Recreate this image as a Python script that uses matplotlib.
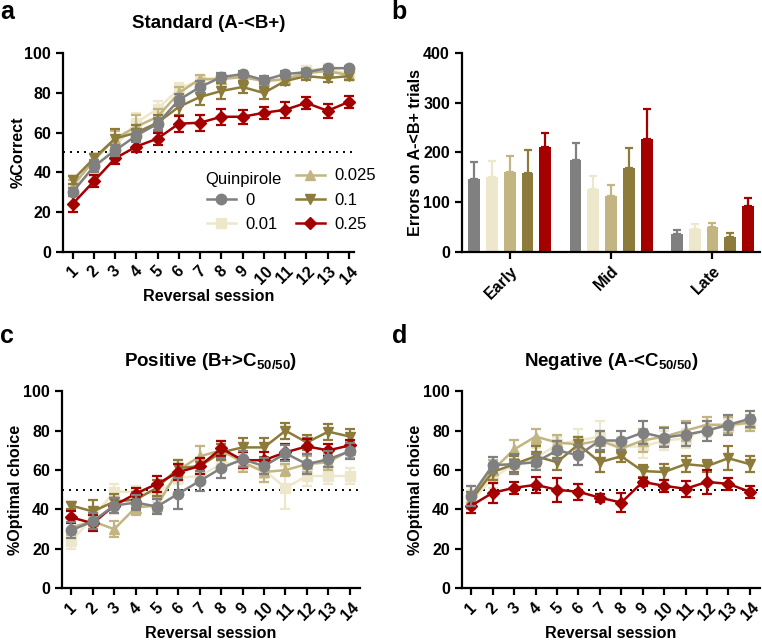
import numpy as np
import matplotlib
matplotlib.use("Agg")
import matplotlib.pyplot as plt
from matplotlib.lines import Line2D

plt.rcParams['font.family'] = ['Liberation Sans', 'DejaVu Sans']
plt.rcParams['mathtext.fontset'] = 'custom'
plt.rcParams['mathtext.rm'] = 'Liberation Sans'
plt.rcParams['mathtext.bf'] = 'Liberation Sans:bold'

# doses of quinpirole, one series each
doses = ['0', '0.01', '0.025', '0.1', '0.25']
colors = ['#808080', '#EDE7CC', '#C3B581', '#8C7B3A', '#A50000']
markers = ['o', 's', '^', 'v', 'D']
sessions = list(range(1, 15))

# a: standard (A-<B+), %correct
std_mean = [
    [30, 43, 51, 58.5, 64.5, 76.5, 83, 88, 89.5, 86.5, 89.5, 90.5, 92.5, 92.5],
    [32, 41, 53, 65, 72, 82, 86.5, 87.5, 88.5, 86, 86.5, 91.5, 92.4, 89.5],
    [33, 46, 57, 63, 68, 80, 87, 87, 88, 86, 87, 90, 91, 89],
    [36, 47, 57, 60, 65, 73, 78, 81, 83, 80, 86, 88.5, 87.5, 88.5],
    [24, 35.5, 47, 53, 57, 64.5, 65, 68, 68, 70, 71.5, 75, 71, 75.5],
]
std_sem = [
    [2, 3, 3, 3, 3, 3, 3, 2, 1.5, 2, 1.5, 1.5, 1, 1],
    [2, 3, 4, 5, 4, 3, 2, 2, 2, 2, 2, 2, 2, 2],
    [3, 3, 4, 6, 4, 3, 2, 2, 2, 2, 2, 2, 2, 2],
    [2, 2, 5, 4, 4, 4, 4, 4, 3, 3, 2, 2, 2, 2],
    [4, 3, 3, 3, 3, 4, 4, 4, 3.5, 3, 4, 3, 3.5, 3],
]

# b: errors on A-<B+ trials
phases = ['Early', 'Mid', 'Late']
err_mean = [
    [146.6, 184.9, 36.3],
    [151, 125.7, 45],
    [160.7, 112.3, 49.7],
    [158.7, 168, 29],
    [210.4, 228, 92.8],
]
err_sem = [
    [34, 34, 7],
    [31, 27, 10],
    [32, 23, 9],
    [47, 42, 8],
    [29, 60, 15],
]

# c: positive (B+>C50/50), %optimal choice
pos_mean = [
    [29.5, 34, 42, 43.5, 41.5, 48, 54.5, 61, 65.5, 62, 68.5, 63, 65.5, 69.5],
    [24, 36, 49, 49, 48, 56, 57, 63, 64, 60, 51, 57, 57, 57],
    [31, 34, 30, 41, 42, 60, 67, 70, 64, 59, 60, 63, 64, 70],
    [42, 39, 44, 45, 51, 61, 62, 69, 71.5, 71.5, 80, 74, 79.5, 77],
    [36, 33, 42, 48, 53, 59, 62, 71, 65, 65, 69, 72, 70, 72.5],
]
pos_sem = [
    [4, 4, 4, 4, 4, 8, 5, 5, 4, 4, 4, 5, 4, 4],
    [4, 5, 4, 3, 4, 3, 3, 3, 4, 4, 11, 5, 4, 4],
    [4, 4, 4, 4, 4, 5, 5, 5, 5, 5, 3, 4, 4, 4],
    [2, 6, 4, 4, 4, 4, 4, 4, 5, 5, 4, 4, 4, 4],
    [3, 4, 4, 3, 4, 4, 4, 4, 4, 4, 4, 4, 3, 3],
]

# d: negative (A-<C50/50), %optimal choice
neg_mean = [
    [47, 62.5, 63, 64, 70, 67.5, 75, 75, 79, 76.5, 78, 80, 83, 86],
    [44, 56, 63, 66, 73, 75, 77, 72, 72, 75, 76, 81, 82, 84],
    [46, 60, 70.5, 77, 74, 73, 75, 71, 75, 77, 80, 83, 83, 84],
    [45, 59, 63, 67, 64, 73, 64, 67, 59.5, 59, 63, 62, 66, 63],
    [42, 48.5, 51, 52.5, 50, 49, 46, 43.5, 54, 52, 50.5, 54, 53, 49],
]
neg_sem = [
    [5, 4, 5, 4, 5, 5, 5, 5, 6, 5, 6, 5, 5, 4],
    [6, 5, 5, 5, 4, 6, 8, 5, 6, 5, 5, 4, 4, 4],
    [6, 5, 5, 4, 4, 4, 5, 5, 6, 5, 5, 4, 4, 4],
    [4, 4, 4, 5, 4, 4, 5, 3, 3, 4, 4, 3, 6, 4],
    [4, 5, 3, 4, 6, 4, 2, 5, 2, 3, 4, 6, 3, 3],
]

# drawing order: cream, tan, olive, red, gray on top
zorders = [7, 3, 4, 5, 6]


def msize(m):
    return 6 if m == 'D' else 7.5


def style_axes(ax):
    for s in ['top', 'right']:
        ax.spines[s].set_visible(False)
    for s in ['left', 'bottom']:
        ax.spines[s].set_linewidth(1.6)
    ax.tick_params(width=1.6, length=5, labelsize=11.5)
    for lab in ax.get_xticklabels() + ax.get_yticklabels():
        lab.set_fontweight('bold')


def line_panel(ax, means, sems, title, ylabel):
    for i in range(len(doses)):
        ax.errorbar(sessions, means[i], yerr=sems[i], color=colors[i],
                    marker=markers[i], markersize=msize(markers[i]), lw=1.8,
                    elinewidth=1.6, capsize=3.5, capthick=1.6,
                    zorder=zorders[i], clip_on=False)
    ax.axhline(50, color='black', lw=1.4, ls=(0, (1, 2.6)), zorder=1)
    ax.set_ylim(0, 100)
    ax.set_yticks([0, 20, 40, 60, 80, 100])
    ax.set_xlim(0.55, 14.5)
    ax.set_xticks(sessions)
    ax.set_xticklabels([str(s) for s in sessions], rotation=45, ha='center')
    ax.set_xlabel('Reversal session', fontsize=11.6, fontweight='bold')
    ax.set_ylabel(ylabel, fontsize=11.6, fontweight='bold')
    ax.xaxis.set_label_coords(0.5, -0.19)
    ax.yaxis.set_label_coords(-0.13, 0.5)
    ax.text(0.5, 1.15, title, transform=ax.transAxes, ha='center', va='center',
            fontsize=13.5, fontweight='bold')
    style_axes(ax)


fig = plt.figure(figsize=(7.62, 6.42), dpi=100)
ax_a = fig.add_axes([0.0827, 0.608, 0.382, 0.309])
ax_b = fig.add_axes([0.606, 0.608, 0.392, 0.309])
ax_c = fig.add_axes([0.081, 0.0836, 0.392, 0.307])
ax_d = fig.add_axes([0.606, 0.0836, 0.392, 0.307])

line_panel(ax_a, std_mean, std_sem, 'Standard (A-<B+)', '%Correct')
ax_a.set_xlim(0.55, 14.25)
line_panel(ax_c, pos_mean, pos_sem, r'Positive (B+>C$_{\mathbf{50/50}}$)',
           '%Optimal choice')
line_panel(ax_d, neg_mean, neg_sem, r'Negative (A-<C$_{\mathbf{50/50}}$)',
           '%Optimal choice')

# legend in panel a with "Quinpirole" heading in the first slot
hs = [Line2D([], [], color=colors[i], marker=markers[i], lw=1.8,
             markersize=msize(markers[i])) for i in range(len(doses))]
blank = Line2D([], [], linestyle='none')
ax_a.legend([blank] + hs, [''] + doses, ncol=2, frameon=False,
            loc='upper left', bbox_to_anchor=(0.494, 0.42), borderpad=0,
            borderaxespad=0, handlelength=1.75, handletextpad=0.55,
            columnspacing=1.1, labelspacing=0.55, fontsize=12)
ax_a.text(0.49, 0.366, 'Quinpirole', transform=ax_a.transAxes, va='center',
          ha='left', fontsize=12)

# b: grouped bars
group_x = np.arange(len(phases)) * 5.7
for i in range(len(doses)):
    ax_b.bar(group_x + (i - 2), err_mean[i], width=0.66, color=colors[i],
             yerr=[[0] * len(phases), err_sem[i]], ecolor=colors[i],
             error_kw=dict(elinewidth=1.6, capsize=3, capthick=1.6))
ax_b.set_xlim(-2.7, 14.1)
ax_b.set_ylim(0, 400)
ax_b.set_yticks([0, 100, 200, 300, 400])
ax_b.set_xticks(group_x)
ax_b.set_xticklabels(phases, rotation=45, ha='right', rotation_mode='anchor')
ax_b.set_ylabel('Errors on A-<B+ trials', fontsize=11.6, fontweight='bold')
ax_b.yaxis.set_label_coords(-0.13, 0.5)
style_axes(ax_b)

for lbl, x, y in [('a', 0.0, 1.0), ('b', 0.514, 1.0),
                  ('c', 0.0, 0.495), ('d', 0.514, 0.495)]:
    fig.text(x, y, lbl, fontsize=18, fontweight='bold', va='top', ha='left')

fig.savefig('out.png', dpi=100)
